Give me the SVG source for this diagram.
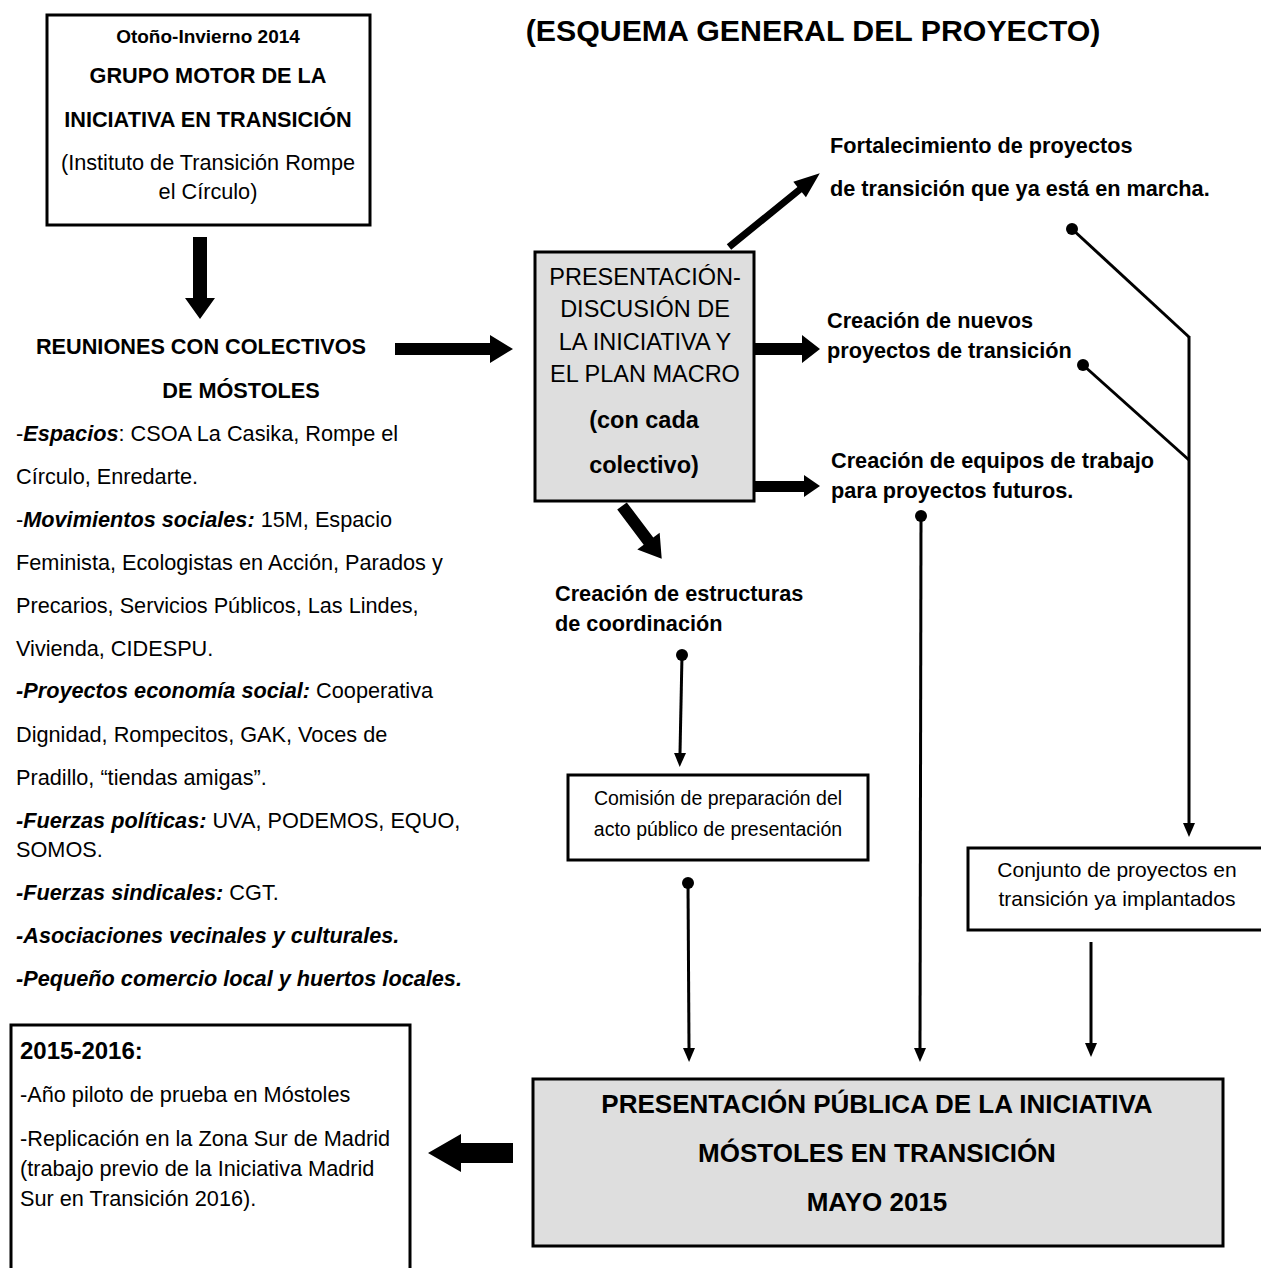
<svg xmlns="http://www.w3.org/2000/svg" width="1261" height="1268" viewBox="0 0 1261 1268">
<defs>
<style>
text{font-family:"Liberation Sans",Arial,sans-serif;fill:#000}
.b{font-weight:bold}
.bi{font-weight:bold;font-style:italic}
.t{font-size:21.7px}
.c{text-anchor:middle}
.box{fill:#fff;stroke:#000;stroke-width:3}
.gbox{fill:#dedede;stroke:#000;stroke-width:3}
.blk{fill:#000;stroke:none}
.ln{stroke:#000;stroke-width:3;fill:none}
.dot{fill:#000}
</style>
<marker id="ah" viewBox="0 0 14 12" refX="0" refY="6" markerWidth="14" markerHeight="12" markerUnits="userSpaceOnUse" orient="auto">
<path d="M0,0 L14,6 L0,12 z" fill="#000"/>
</marker>
</defs>
<rect width="1261" height="1268" fill="#fff"/>

<g id="title">
<text x="813" y="41" class="b c" font-size="30.3">(ESQUEMA GENERAL DEL PROYECTO)</text>
</g>

<g id="n-grupo-motor">
<rect class="box" x="47" y="15" width="323" height="210" stroke-width="2.5"/>
<text x="208" y="43" class="b c" font-size="19">Otoño-Invierno 2014</text>
<text x="208" y="83" class="b c t">GRUPO MOTOR DE LA</text>
<text x="208" y="127" class="b c t">INICIATIVA EN TRANSICIÓN</text>
<text x="208" y="170" class="c t">(Instituto de Transición Rompe</text>
<text x="208" y="199" class="c t">el Círculo)</text>
</g>

<g id="n-reuniones">
<text x="201" y="354" class="b c t">REUNIONES CON COLECTIVOS</text>
<text x="241" y="398" class="b c t">DE MÓSTOLES</text>
<text x="16" y="441" class="t">-<tspan class="bi">Espacios</tspan>: CSOA La Casika, Rompe el</text>
<text x="16" y="484" class="t">Círculo, Enredarte.</text>
<text x="16" y="527" class="t">-<tspan class="bi">Movimientos sociales:</tspan> 15M, Espacio</text>
<text x="16" y="570" class="t">Feminista, Ecologistas en Acción, Parados y</text>
<text x="16" y="613" class="t">Precarios, Servicios Públicos, Las Lindes,</text>
<text x="16" y="656" class="t">Vivienda, CIDESPU.</text>
<text x="16" y="698" class="t"><tspan class="bi">-Proyectos economía social:</tspan> Cooperativa</text>
<text x="16" y="742" class="t">Dignidad, Rompecitos, GAK, Voces de</text>
<text x="16" y="785" class="t">Pradillo, “tiendas amigas”.</text>
<text x="16" y="828" class="t"><tspan class="bi">-Fuerzas políticas:</tspan> UVA, PODEMOS, EQUO,</text>
<text x="16" y="857" class="t">SOMOS.</text>
<text x="16" y="900" class="t"><tspan class="bi">-Fuerzas sindicales:</tspan> CGT.</text>
<text x="16" y="943" class="t bi">-Asociaciones vecinales y culturales.</text>
<text x="16" y="986" class="t bi">-Pequeño comercio local y huertos locales.</text>
</g>

<g id="n-presentacion">
<rect class="gbox" x="535" y="252" width="219" height="249"/>
<text x="645" y="285" class="c" font-size="23.5">PRESENTACIÓN-</text>
<text x="645" y="317" class="c" font-size="23.5">DISCUSIÓN DE</text>
<text x="645" y="350" class="c" font-size="23.5">LA INICIATIVA Y</text>
<text x="645" y="382" class="c" font-size="23.5">EL PLAN MACRO</text>
<text x="644" y="428" class="b c" font-size="23.5">(con cada</text>
<text x="644" y="473" class="b c" font-size="23.5">colectivo)</text>
</g>

<g id="n-fortalecimiento">
<text x="830" y="153" class="b t">Fortalecimiento de proyectos</text>
<text x="830" y="196" class="b t">de transición que ya está en marcha.</text>
</g>

<g id="n-nuevos">
<text x="827" y="328" class="b t">Creación de nuevos</text>
<text x="827" y="358" class="b t">proyectos de transición</text>
</g>

<g id="n-equipos">
<text x="831" y="468" class="b t">Creación de equipos de trabajo</text>
<text x="831" y="498" class="b t">para proyectos futuros.</text>
</g>

<g id="n-estructuras">
<text x="555" y="601" class="b t">Creación de estructuras</text>
<text x="555" y="631" class="b t">de coordinación</text>
</g>

<g id="n-comision">
<rect class="box" x="568" y="775" width="300" height="85"/>
<text x="718" y="805" class="c" font-size="19.5">Comisión de preparación del</text>
<text x="718" y="836" class="c" font-size="19.5">acto público de presentación</text>
</g>

<g id="n-conjunto">
<rect class="box" x="968" y="848" width="296" height="82"/>
<text x="1117" y="877" class="c" font-size="21">Conjunto de proyectos en</text>
<text x="1117" y="906" class="c" font-size="21">transición ya implantados</text>
</g>

<g id="n-publica">
<rect class="gbox" x="533" y="1079" width="690" height="167"/>
<text x="877" y="1113" class="b c" font-size="26">PRESENTACIÓN PÚBLICA DE LA INICIATIVA</text>
<text x="877" y="1162" class="b c" font-size="26">MÓSTOLES EN TRANSICIÓN</text>
<text x="877" y="1211" class="b c" font-size="26">MAYO 2015</text>
</g>

<g id="n-2015">
<rect class="box" x="11" y="1025" width="399" height="260"/>
<text x="20" y="1059" class="b" font-size="24">2015-2016:</text>
<text x="20" y="1102" class="t">-Año piloto de prueba en Móstoles</text>
<text x="20" y="1146" class="t">-Replicación en la Zona Sur de Madrid</text>
<text x="20" y="1176" class="t">(trabajo previo de la Iniciativa Madrid</text>
<text x="20" y="1206" class="t">Sur en Transición 2016).</text>
</g>

<g id="connectors">
<polygon class="blk" points="193,237 207,237 207,298 215,298 200,319 185,298 193,298"/>
<polygon class="blk" points="395,343 490,343 490,335 513,349 490,363 490,355 395,355"/>
<polygon class="blk" transform="translate(729,247) rotate(-39.1)" points="0,-3.5 91,-3.5 91,-10 117,0 91,10 91,3.5 0,3.5"/>
<polygon class="blk" points="754,343 802,343 802,335 820,349 802,363 802,355 754,355"/>
<polygon class="blk" points="754,481 804,481 804,475 820,486 804,497 804,492 754,492"/>
<polygon class="blk" transform="translate(622,506) rotate(53)" points="0,-6 44,-6 44,-14 66,0 44,14 44,6 0,6"/>
<polygon class="blk" points="513,1143 461,1143 461,1134 428,1153 461,1172 461,1163 513,1163"/>

<circle class="dot" cx="1072" cy="229" r="6"/>
<line class="ln" x1="1072" y1="229" x2="1189" y2="337"/>
<circle class="dot" cx="1083" cy="365" r="6"/>
<line class="ln" x1="1083" y1="365" x2="1189" y2="460"/>
<line class="ln" x1="1189" y1="336" x2="1189" y2="823" marker-end="url(#ah)"/>

<circle class="dot" cx="921" cy="516" r="6"/>
<line class="ln" x1="921" y1="516" x2="920" y2="1048" marker-end="url(#ah)"/>

<circle class="dot" cx="682" cy="655" r="6"/>
<line class="ln" x1="682" y1="655" x2="680" y2="753" marker-end="url(#ah)"/>

<circle class="dot" cx="688" cy="883" r="6"/>
<line class="ln" x1="688" y1="883" x2="689" y2="1048" marker-end="url(#ah)"/>

<line class="ln" x1="1091" y1="942" x2="1091" y2="1043" marker-end="url(#ah)"/>
</g>
</svg>
